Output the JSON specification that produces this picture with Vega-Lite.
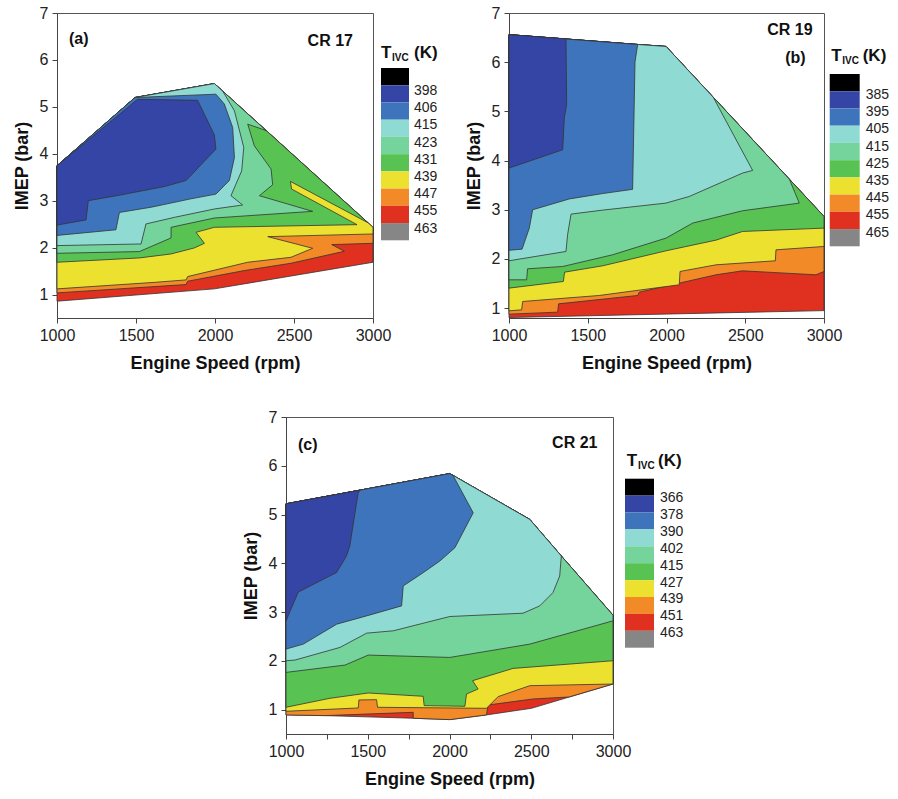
{
  "$schema": "https://vega.github.io/schema/vega-lite/v6.json",
  "background": "white",
  "padding": {"left": 12, "top": 4, "right": 0, "bottom": 0},
  "config": {
    "font": "Liberation Sans",
    "view": {"stroke": "#555", "strokeWidth": 1},
    "axis": {
      "grid": false, "domainColor": "#444", "tickColor": "#444", "labelColor": "#222",
      "labelFontSize": 16, "titleFontSize": 18, "titleFontWeight": "bold", "titleColor": "#111",
      "tickSize": 5, "labelPadding": 4, "titlePadding": 8, "labelOverlap": false, "labelFlush": false
    },
    "axisX": {"titlePadding": 11}
  },
  "datasets": {
    "a": [
      {"c":"L1","i":0,"x":1000,"y":0.858},{"c":"L1","i":1,"x":1996,"y":1.121},{"c":"L1","i":2,"x":3000,"y":1.688},{"c":"L1","i":3,"x":3000,"y":2.433},{"c":"L1","i":4,"x":1996,"y":5.496},{"c":"L1","i":5,"x":1494,"y":5.199},{"c":"L1","i":6,"x":1000,"y":3.745},
      {"c":"L2","i":0,"x":1000,"y":1.035},{"c":"L2","i":1,"x":1817,"y":1.213},{"c":"L2","i":2,"x":1827,"y":1.284},{"c":"L2","i":3,"x":2186,"y":1.511},{"c":"L2","i":4,"x":2481,"y":1.667},{"c":"L2","i":5,"x":2819,"y":1.922},{"c":"L2","i":6,"x":2739,"y":2.064},{"c":"L2","i":7,"x":3000,"y":2.092},{"c":"L2","i":8,"x":3000,"y":2.433},{"c":"L2","i":9,"x":1996,"y":5.496},{"c":"L2","i":10,"x":1494,"y":5.199},{"c":"L2","i":11,"x":1000,"y":3.745},
      {"c":"L3","i":0,"x":1000,"y":1.121},{"c":"L3","i":1,"x":1627,"y":1.262},{"c":"L3","i":2,"x":1817,"y":1.312},{"c":"L3","i":3,"x":1827,"y":1.383},{"c":"L3","i":4,"x":2207,"y":1.688},{"c":"L3","i":5,"x":2481,"y":1.794},{"c":"L3","i":6,"x":2618,"y":1.986},{"c":"L3","i":7,"x":2334,"y":2.234},{"c":"L3","i":8,"x":3000,"y":2.291},{"c":"L3","i":9,"x":3000,"y":2.433},{"c":"L3","i":10,"x":1996,"y":5.496},{"c":"L3","i":11,"x":1494,"y":5.199},{"c":"L3","i":12,"x":1000,"y":3.745},
      {"c":"L4","i":0,"x":1000,"y":1.688},{"c":"L4","i":1,"x":1521,"y":1.78},{"c":"L4","i":2,"x":1722,"y":1.865},{"c":"L4","i":3,"x":1869,"y":1.993},{"c":"L4","i":4,"x":1933,"y":2.092},{"c":"L4","i":5,"x":1880,"y":2.326},{"c":"L4","i":6,"x":1996,"y":2.433},{"c":"L4","i":7,"x":2899,"y":2.489},{"c":"L4","i":8,"x":2485,"y":3.248},{"c":"L4","i":9,"x":2477,"y":3.411},{"c":"L4","i":10,"x":2967,"y":2.532},{"c":"L4","i":11,"x":1996,"y":5.496},{"c":"L4","i":12,"x":1494,"y":5.199},{"c":"L4","i":13,"x":1000,"y":3.745},
      {"c":"L5","i":0,"x":1000,"y":1.879},{"c":"L5","i":1,"x":1521,"y":1.915},{"c":"L5","i":2,"x":1722,"y":2.206},{"c":"L5","i":3,"x":1722,"y":2.433},{"c":"L5","i":4,"x":1996,"y":2.631},{"c":"L5","i":5,"x":2618,"y":2.773},{"c":"L5","i":6,"x":2281,"y":3.106},{"c":"L5","i":7,"x":2365,"y":3.34},{"c":"L5","i":8,"x":2355,"y":3.674},{"c":"L5","i":9,"x":2249,"y":4.17},{"c":"L5","i":10,"x":2207,"y":4.631},{"c":"L5","i":11,"x":2323,"y":4.496},{"c":"L5","i":12,"x":1996,"y":5.496},{"c":"L5","i":13,"x":1494,"y":5.199},{"c":"L5","i":14,"x":1000,"y":3.745},
      {"c":"L6","i":0,"x":1000,"y":2.043},{"c":"L6","i":1,"x":1532,"y":2.078},{"c":"L6","i":2,"x":1563,"y":2.504},{"c":"L6","i":3,"x":1743,"y":2.645},{"c":"L6","i":4,"x":1996,"y":2.823},{"c":"L6","i":5,"x":2175,"y":2.908},{"c":"L6","i":6,"x":2101,"y":3.106},{"c":"L6","i":7,"x":2169,"y":3.638},{"c":"L6","i":8,"x":2182,"y":4.135},{"c":"L6","i":9,"x":2123,"y":4.915},{"c":"L6","i":10,"x":2049,"y":5.334},{"c":"L6","i":11,"x":1996,"y":5.496},{"c":"L6","i":12,"x":1494,"y":5.199},{"c":"L6","i":13,"x":1000,"y":3.745},
      {"c":"L7","i":0,"x":1000,"y":2.26},{"c":"L7","i":1,"x":1373,"y":2.38},{"c":"L7","i":2,"x":1395,"y":2.75},{"c":"L7","i":3,"x":1595,"y":2.86},{"c":"L7","i":4,"x":1848,"y":3.04},{"c":"L7","i":5,"x":2006,"y":3.14},{"c":"L7","i":6,"x":2091,"y":3.43},{"c":"L7","i":7,"x":2123,"y":3.92},{"c":"L7","i":8,"x":2112,"y":4.56},{"c":"L7","i":9,"x":2059,"y":5.06},{"c":"L7","i":10,"x":2006,"y":5.27},{"c":"L7","i":11,"x":1494,"y":5.199},{"c":"L7","i":12,"x":1000,"y":3.745},
      {"c":"L8","i":0,"x":1000,"y":2.48},{"c":"L8","i":1,"x":1184,"y":2.59},{"c":"L8","i":2,"x":1198,"y":3.0},{"c":"L8","i":3,"x":1384,"y":3.11},{"c":"L8","i":4,"x":1679,"y":3.3},{"c":"L8","i":5,"x":1817,"y":3.43},{"c":"L8","i":6,"x":2006,"y":4.1},{"c":"L8","i":7,"x":1996,"y":4.4},{"c":"L8","i":8,"x":1933,"y":4.84},{"c":"L8","i":9,"x":1890,"y":5.14},{"c":"L8","i":10,"x":1510,"y":5.16},{"c":"L8","i":11,"x":1000,"y":3.745}
    ],
    "b": [
      {"c":"L1","i":0,"x":1000,"y":0.81},{"c":"L1","i":1,"x":3000,"y":0.95},{"c":"L1","i":2,"x":3000,"y":2.864},{"c":"L1","i":3,"x":1997,"y":6.32},{"c":"L1","i":4,"x":1817,"y":6.36},{"c":"L1","i":5,"x":1000,"y":6.56},
      {"c":"L2","i":0,"x":1000,"y":0.878},{"c":"L2","i":1,"x":1309,"y":0.919},{"c":"L2","i":2,"x":1315,"y":1.088},{"c":"L2","i":3,"x":1817,"y":1.258},{"c":"L2","i":4,"x":1827,"y":1.325},{"c":"L2","i":5,"x":2314,"y":1.678},{"c":"L2","i":6,"x":2483,"y":1.759},{"c":"L2","i":7,"x":2949,"y":1.678},{"c":"L2","i":8,"x":3000,"y":1.746},{"c":"L2","i":9,"x":3000,"y":2.864},{"c":"L2","i":10,"x":1997,"y":6.32},{"c":"L2","i":11,"x":1817,"y":6.36},{"c":"L2","i":12,"x":1000,"y":6.56},
      {"c":"L3","i":0,"x":1000,"y":0.946},{"c":"L3","i":1,"x":1080,"y":0.966},{"c":"L3","i":2,"x":1087,"y":1.136},{"c":"L3","i":3,"x":1573,"y":1.258},{"c":"L3","i":4,"x":2081,"y":1.475},{"c":"L3","i":5,"x":2086,"y":1.746},{"c":"L3","i":6,"x":2314,"y":1.881},{"c":"L3","i":7,"x":2691,"y":1.963},{"c":"L3","i":8,"x":2695,"y":2.186},{"c":"L3","i":9,"x":3000,"y":2.254},{"c":"L3","i":10,"x":3000,"y":2.864},{"c":"L3","i":11,"x":1997,"y":6.32},{"c":"L3","i":12,"x":1817,"y":6.36},{"c":"L3","i":13,"x":1000,"y":6.56},
      {"c":"L4","i":0,"x":1000,"y":1.407},{"c":"L4","i":1,"x":1345,"y":1.542},{"c":"L4","i":2,"x":1353,"y":1.732},{"c":"L4","i":3,"x":1595,"y":1.861},{"c":"L4","i":4,"x":1997,"y":2.166},{"c":"L4","i":5,"x":2314,"y":2.383},{"c":"L4","i":6,"x":2483,"y":2.559},{"c":"L4","i":7,"x":3000,"y":2.627},{"c":"L4","i":8,"x":3000,"y":2.864},{"c":"L4","i":9,"x":1997,"y":6.32},{"c":"L4","i":10,"x":1817,"y":6.36},{"c":"L4","i":11,"x":1000,"y":6.56},
      {"c":"L5","i":0,"x":1000,"y":1.576},{"c":"L5","i":1,"x":1112,"y":1.576},{"c":"L5","i":2,"x":1118,"y":1.8},{"c":"L5","i":3,"x":1341,"y":1.847},{"c":"L5","i":4,"x":1658,"y":2.085},{"c":"L5","i":5,"x":1997,"y":2.424},{"c":"L5","i":6,"x":2166,"y":2.729},{"c":"L5","i":7,"x":2483,"y":2.98},{"c":"L5","i":8,"x":2843,"y":3.136},{"c":"L5","i":9,"x":2780,"y":3.622},{"c":"L5","i":10,"x":1997,"y":6.32},{"c":"L5","i":11,"x":1817,"y":6.36},{"c":"L5","i":12,"x":1000,"y":6.56},
      {"c":"L6","i":0,"x":1000,"y":1.963},{"c":"L6","i":1,"x":1362,"y":2.153},{"c":"L6","i":2,"x":1372,"y":2.492},{"c":"L6","i":3,"x":1394,"y":2.912},{"c":"L6","i":4,"x":1595,"y":2.993},{"c":"L6","i":5,"x":1997,"y":3.136},{"c":"L6","i":6,"x":2145,"y":3.271},{"c":"L6","i":7,"x":2483,"y":3.746},{"c":"L6","i":8,"x":2547,"y":3.8},{"c":"L6","i":9,"x":2297,"y":5.286},{"c":"L6","i":10,"x":1997,"y":6.32},{"c":"L6","i":11,"x":1817,"y":6.36},{"c":"L6","i":12,"x":1000,"y":6.56},
      {"c":"L7","i":0,"x":1000,"y":2.176},{"c":"L7","i":1,"x":1083,"y":2.2},{"c":"L7","i":2,"x":1129,"y":2.627},{"c":"L7","i":3,"x":1150,"y":3.0},{"c":"L7","i":4,"x":1383,"y":3.22},{"c":"L7","i":5,"x":1595,"y":3.33},{"c":"L7","i":6,"x":1785,"y":3.415},{"c":"L7","i":7,"x":1800,"y":6.0},{"c":"L7","i":8,"x":1817,"y":6.36},{"c":"L7","i":9,"x":1000,"y":6.56},
      {"c":"L8","i":0,"x":1000,"y":3.847},{"c":"L8","i":1,"x":1341,"y":4.22},{"c":"L8","i":2,"x":1351,"y":4.86},{"c":"L8","i":3,"x":1366,"y":5.14},{"c":"L8","i":4,"x":1362,"y":6.475},{"c":"L8","i":5,"x":1000,"y":6.56}
    ],
    "c": [
      {"c":"L1","i":0,"x":1000,"y":0.891},{"c":"L1","i":1,"x":1238,"y":0.877},{"c":"L1","i":2,"x":1778,"y":0.823},{"c":"L1","i":3,"x":2002,"y":0.795},{"c":"L1","i":4,"x":2226,"y":0.891},{"c":"L1","i":5,"x":2501,"y":1.027},{"c":"L1","i":6,"x":3000,"y":1.525},{"c":"L1","i":7,"x":3000,"y":2.936},{"c":"L1","i":8,"x":2684,"y":4.15},{"c":"L1","i":9,"x":2491,"y":4.9},{"c":"L1","i":10,"x":2002,"y":5.84},{"c":"L1","i":11,"x":1000,"y":5.22},
      {"c":"L2","i":0,"x":1000,"y":0.891},{"c":"L2","i":1,"x":1238,"y":0.877},{"c":"L2","i":2,"x":1778,"y":0.945},{"c":"L2","i":3,"x":1778,"y":0.823},{"c":"L2","i":4,"x":2002,"y":0.795},{"c":"L2","i":5,"x":2226,"y":0.891},{"c":"L2","i":6,"x":2236,"y":1.095},{"c":"L2","i":7,"x":2511,"y":1.218},{"c":"L2","i":8,"x":2731,"y":1.259},{"c":"L2","i":9,"x":3000,"y":1.525},{"c":"L2","i":10,"x":3000,"y":2.936},{"c":"L2","i":11,"x":2684,"y":4.15},{"c":"L2","i":12,"x":2491,"y":4.9},{"c":"L2","i":13,"x":2002,"y":5.84},{"c":"L2","i":14,"x":1000,"y":5.22},
      {"c":"L3","i":0,"x":1000,"y":0.966},{"c":"L3","i":1,"x":1442,"y":1.034},{"c":"L3","i":2,"x":1446,"y":1.198},{"c":"L3","i":3,"x":1554,"y":1.204},{"c":"L3","i":4,"x":1560,"y":1.048},{"c":"L3","i":5,"x":2226,"y":1.027},{"c":"L3","i":6,"x":2297,"y":1.266},{"c":"L3","i":7,"x":2491,"y":1.491},{"c":"L3","i":8,"x":3000,"y":1.525},{"c":"L3","i":9,"x":3000,"y":2.936},{"c":"L3","i":10,"x":2684,"y":4.15},{"c":"L3","i":11,"x":2491,"y":4.9},{"c":"L3","i":12,"x":2002,"y":5.84},{"c":"L3","i":13,"x":1000,"y":5.22},
      {"c":"L4","i":0,"x":1000,"y":1.048},{"c":"L4","i":1,"x":1269,"y":1.232},{"c":"L4","i":2,"x":1503,"y":1.341},{"c":"L4","i":3,"x":1839,"y":1.273},{"c":"L4","i":4,"x":1845,"y":1.082},{"c":"L4","i":5,"x":2094,"y":1.068},{"c":"L4","i":6,"x":2104,"y":1.32},{"c":"L4","i":7,"x":2175,"y":1.423},{"c":"L4","i":8,"x":2141,"y":1.593},{"c":"L4","i":9,"x":2389,"y":1.845},{"c":"L4","i":10,"x":3000,"y":2.002},{"c":"L4","i":11,"x":3000,"y":2.936},{"c":"L4","i":12,"x":2684,"y":4.15},{"c":"L4","i":13,"x":2491,"y":4.9},{"c":"L4","i":14,"x":2002,"y":5.84},{"c":"L4","i":15,"x":1000,"y":5.22},
      {"c":"L5","i":0,"x":1000,"y":1.763},{"c":"L5","i":1,"x":1361,"y":1.913},{"c":"L5","i":2,"x":1503,"y":2.118},{"c":"L5","i":3,"x":2002,"y":2.07},{"c":"L5","i":4,"x":2491,"y":2.343},{"c":"L5","i":5,"x":3000,"y":2.82},{"c":"L5","i":6,"x":3000,"y":2.936},{"c":"L5","i":7,"x":2684,"y":4.15},{"c":"L5","i":8,"x":2491,"y":4.9},{"c":"L5","i":9,"x":2002,"y":5.84},{"c":"L5","i":10,"x":1000,"y":5.22},
      {"c":"L6","i":0,"x":1000,"y":2.002},{"c":"L6","i":1,"x":1055,"y":2.016},{"c":"L6","i":2,"x":1330,"y":2.275},{"c":"L6","i":3,"x":1493,"y":2.568},{"c":"L6","i":4,"x":1656,"y":2.616},{"c":"L6","i":5,"x":2002,"y":2.909},{"c":"L6","i":6,"x":2450,"y":2.977},{"c":"L6","i":7,"x":2552,"y":3.127},{"c":"L6","i":8,"x":2633,"y":3.4},{"c":"L6","i":9,"x":2674,"y":3.74},{"c":"L6","i":10,"x":2684,"y":4.15},{"c":"L6","i":11,"x":2491,"y":4.9},{"c":"L6","i":12,"x":2002,"y":5.84},{"c":"L6","i":13,"x":1000,"y":5.22},
      {"c":"L7","i":0,"x":1000,"y":2.241},{"c":"L7","i":1,"x":1106,"y":2.343},{"c":"L7","i":2,"x":1310,"y":2.752},{"c":"L7","i":3,"x":1493,"y":2.922},{"c":"L7","i":4,"x":1707,"y":3.127},{"c":"L7","i":5,"x":1717,"y":3.536},{"c":"L7","i":6,"x":1839,"y":3.808},{"c":"L7","i":7,"x":1941,"y":4.047},{"c":"L7","i":8,"x":2033,"y":4.32},{"c":"L7","i":9,"x":2145,"y":5.036},{"c":"L7","i":10,"x":2022,"y":5.8},{"c":"L7","i":11,"x":2002,"y":5.84},{"c":"L7","i":12,"x":1000,"y":5.22},
      {"c":"L8","i":0,"x":1000,"y":2.82},{"c":"L8","i":1,"x":1075,"y":3.41},{"c":"L8","i":2,"x":1309,"y":3.81},{"c":"L8","i":3,"x":1370,"y":4.15},{"c":"L8","i":4,"x":1390,"y":4.35},{"c":"L8","i":5,"x":1441,"y":5.44},{"c":"L8","i":6,"x":1452,"y":5.499},{"c":"L8","i":7,"x":1000,"y":5.22}
    ],
    "legA": [
      {"c":"L9","lab":""},{"c":"L8","lab":"398"},{"c":"L7","lab":"406"},{"c":"L6","lab":"415"},{"c":"L5","lab":"423"},
      {"c":"L4","lab":"431"},{"c":"L3","lab":"439"},{"c":"L2","lab":"447"},{"c":"L1","lab":"455"},{"c":"L0","lab":"463"}
    ],
    "legB": [
      {"c":"L9","lab":""},{"c":"L8","lab":"385"},{"c":"L7","lab":"395"},{"c":"L6","lab":"405"},{"c":"L5","lab":"415"},
      {"c":"L4","lab":"425"},{"c":"L3","lab":"435"},{"c":"L2","lab":"445"},{"c":"L1","lab":"455"},{"c":"L0","lab":"465"}
    ],
    "legC": [
      {"c":"L9","lab":""},{"c":"L8","lab":"366"},{"c":"L7","lab":"378"},{"c":"L6","lab":"390"},{"c":"L5","lab":"402"},
      {"c":"L4","lab":"415"},{"c":"L3","lab":"427"},{"c":"L2","lab":"439"},{"c":"L1","lab":"451"},{"c":"L0","lab":"463"}
    ]
  },
  "vconcat": [
    {
      "spacing": 25,
      "hconcat": [
        {
          "width": 316, "height": 305,
          "resolve": {"scale": {"x": "independent", "y": "independent"}},
          "layer": [
            {
              "data": {"name": "a"},
              "layer": [
                {
                  "mark": {"type": "line", "filled": true, "interpolate": "linear-closed", "stroke": "#333", "strokeWidth": 0.8},
                  "encoding": {
                    "x": {"field": "x", "type": "quantitative", "scale": {"domain": [1000, 3000], "nice": false, "zero": false},
                          "axis": {"title": "Engine Speed (rpm)", "values": [1000,1250,1500,1750,2000,2250,2500,2750,3000], "format": "d", "labelExpr": "datum.value % 500 === 0 ? datum.label : ''"}},
                    "y": {"field": "y", "type": "quantitative", "scale": {"domain": [0.5, 7], "nice": false, "zero": false},
                          "axis": {"title": "IMEP (bar)", "values": [1,1.5,2,2.5,3,3.5,4,4.5,5,5.5,6,6.5,7], "labelExpr": "datum.value % 1 === 0 ? datum.label : ''"}},
                    "color": {"field": "c", "type": "nominal", "legend": null,
                              "scale": {"domain": ["L0","L1","L2","L3","L4","L5","L6","L7","L8","L9"], "range": ["#868686","#e0301f","#f28a27","#ede12f","#58c352","#74d49c","#8fdbd3","#3e74bb","#3545a5","#000000"]}},
                    "order": {"field": "i", "type": "quantitative"}
                  }
                },
                {
                  "data": {"values": [{}]},
                  "mark": {"type": "text", "align": "left", "baseline": "middle", "fontWeight": "bold", "fontSize": 16, "color": "#111"},
                  "encoding": {"x": {"datum": 1076}, "y": {"datum": 6.44}, "text": {"value": "(a)"}}
                },
                {
                  "data": {"values": [{}]},
                  "mark": {"type": "text", "align": "right", "baseline": "middle", "fontWeight": "bold", "fontSize": 16, "color": "#111"},
                  "encoding": {"x": {"datum": 2873}, "y": {"datum": 6.4}, "text": {"value": "CR 17"}}
                }
              ]
            },
            {
              "data": {"name": "legA"},
              "layer": [
                {
                  "mark": {"type": "rect"},
                  "encoding": {
                    "y": {"field": "c", "type": "nominal", "axis": null, "scale": {"domain": ["t","L9","L8","L7","L6","L5","L4","L3","L2","L1","L0"], "range": [37.8, 227.3], "paddingInner": 0, "paddingOuter": 0}},
                    "x": {"datum": 0, "scale": {"domain": [0, 100], "range": [324, 424], "nice": false, "zero": false}, "axis": null},
                    "x2": {"datum": 28},
                    "color": {"field": "c", "type": "nominal", "legend": null,
                              "scale": {"domain": ["L0","L1","L2","L3","L4","L5","L6","L7","L8","L9"], "range": ["#868686","#e0301f","#f28a27","#ede12f","#58c352","#74d49c","#8fdbd3","#3e74bb","#3545a5","#000000"]}}
                  }
                },
                {
                  "mark": {"type": "text", "align": "left", "baseline": "middle", "dy": -3, "fontSize": 14, "color": "#222"},
                  "encoding": {"y": {"field": "c", "type": "nominal"}, "x": {"datum": 33}, "text": {"field": "lab"}}
                },
                {
                  "data": {"values": [{"c": "t"}]},
                  "mark": {"type": "text", "align": "left", "baseline": "middle", "dy": -6, "fontSize": 17, "fontWeight": "bold", "color": "#111"},
                  "encoding": {"y": {"field": "c", "type": "nominal"}, "x": {"datum": 0}, "text": {"value": "T"}}
                },
                {
                  "data": {"values": [{"c": "t"}]},
                  "mark": {"type": "text", "align": "left", "baseline": "middle", "dy": -1, "fontSize": 10, "fontWeight": "bold", "color": "#111"},
                  "encoding": {"y": {"field": "c", "type": "nominal"}, "x": {"datum": 11}, "text": {"value": "IVC"}}
                },
                {
                  "data": {"values": [{"c": "t"}]},
                  "mark": {"type": "text", "align": "left", "baseline": "middle", "dy": -6, "fontSize": 17, "fontWeight": "bold", "color": "#111"},
                  "encoding": {"y": {"field": "c", "type": "nominal"}, "x": {"datum": 33}, "text": {"value": "(K)"}}
                }
              ]
            }
          ]
        },
        {
          "width": 315, "height": 305,
          "resolve": {"scale": {"x": "independent", "y": "independent"}},
          "layer": [
            {
              "data": {"name": "b"},
              "layer": [
                {
                  "mark": {"type": "line", "filled": true, "interpolate": "linear-closed", "stroke": "#333", "strokeWidth": 0.8},
                  "encoding": {
                    "x": {"field": "x", "type": "quantitative", "scale": {"domain": [1000, 3000], "nice": false, "zero": false},
                          "axis": {"title": "Engine Speed (rpm)", "values": [1000,1250,1500,1750,2000,2250,2500,2750,3000], "format": "d", "labelExpr": "datum.value % 500 === 0 ? datum.label : ''"}},
                    "y": {"field": "y", "type": "quantitative", "scale": {"domain": [0.8, 7], "nice": false, "zero": false},
                          "axis": {"title": "IMEP (bar)", "values": [1,1.5,2,2.5,3,3.5,4,4.5,5,5.5,6,6.5,7], "labelExpr": "datum.value % 1 === 0 ? datum.label : ''"}},
                    "color": {"field": "c", "type": "nominal", "legend": null,
                              "scale": {"domain": ["L0","L1","L2","L3","L4","L5","L6","L7","L8","L9"], "range": ["#868686","#e0301f","#f28a27","#ede12f","#58c352","#74d49c","#8fdbd3","#3e74bb","#3545a5","#000000"]}},
                    "order": {"field": "i", "type": "quantitative"}
                  }
                },
                {
                  "data": {"values": [{}]},
                  "mark": {"type": "text", "align": "right", "baseline": "middle", "fontWeight": "bold", "fontSize": 16, "color": "#111"},
                  "encoding": {"x": {"datum": 2928}, "y": {"datum": 6.65}, "text": {"value": "CR 19"}}
                },
                {
                  "data": {"values": [{}]},
                  "mark": {"type": "text", "align": "right", "baseline": "middle", "fontWeight": "bold", "fontSize": 16, "color": "#111"},
                  "encoding": {"x": {"datum": 2883}, "y": {"datum": 6.08}, "text": {"value": "(b)"}}
                }
              ]
            },
            {
              "data": {"name": "legB"},
              "layer": [
                {
                  "mark": {"type": "rect"},
                  "encoding": {
                    "y": {"field": "c", "type": "nominal", "axis": null, "scale": {"domain": ["t","L9","L8","L7","L6","L5","L4","L3","L2","L1","L0"], "range": [43.8, 233.3], "paddingInner": 0, "paddingOuter": 0}},
                    "x": {"datum": 0, "scale": {"domain": [0, 100], "range": [320.7, 420.7], "nice": false, "zero": false}, "axis": null},
                    "x2": {"datum": 30},
                    "color": {"field": "c", "type": "nominal", "legend": null,
                              "scale": {"domain": ["L0","L1","L2","L3","L4","L5","L6","L7","L8","L9"], "range": ["#868686","#e0301f","#f28a27","#ede12f","#58c352","#74d49c","#8fdbd3","#3e74bb","#3545a5","#000000"]}}
                  }
                },
                {
                  "mark": {"type": "text", "align": "left", "baseline": "middle", "dy": -5, "fontSize": 14, "color": "#222"},
                  "encoding": {"y": {"field": "c", "type": "nominal"}, "x": {"datum": 36}, "text": {"field": "lab"}}
                },
                {
                  "data": {"values": [{"c": "t"}]},
                  "mark": {"type": "text", "align": "left", "baseline": "middle", "dy": -9, "fontSize": 17, "fontWeight": "bold", "color": "#111"},
                  "encoding": {"y": {"field": "c", "type": "nominal"}, "x": {"datum": 1.5}, "text": {"value": "T"}}
                },
                {
                  "data": {"values": [{"c": "t"}]},
                  "mark": {"type": "text", "align": "left", "baseline": "middle", "dy": -4, "fontSize": 10, "fontWeight": "bold", "color": "#111"},
                  "encoding": {"y": {"field": "c", "type": "nominal"}, "x": {"datum": 12.5}, "text": {"value": "IVC"}}
                },
                {
                  "data": {"values": [{"c": "t"}]},
                  "mark": {"type": "text", "align": "left", "baseline": "middle", "dy": -9, "fontSize": 17, "fontWeight": "bold", "color": "#111"},
                  "encoding": {"y": {"field": "c", "type": "nominal"}, "x": {"datum": 33}, "text": {"value": "(K)"}}
                }
              ]
            }
          ]
        }
      ]
    },
    {
      "spacing": 8,
      "hconcat": [
        {
          "width": 176, "height": 10, "view": {"stroke": null},
          "data": {"values": [{}]},
          "mark": {"type": "text"},
          "encoding": {"text": {"value": ""}}
        },
        {
          "width": 327, "height": 317,
          "resolve": {"scale": {"x": "independent", "y": "independent"}},
          "layer": [
            {
              "data": {"name": "c"},
              "layer": [
                {
                  "mark": {"type": "line", "filled": true, "interpolate": "linear-closed", "stroke": "#333", "strokeWidth": 0.8},
                  "encoding": {
                    "x": {"field": "x", "type": "quantitative", "scale": {"domain": [1000, 3000], "nice": false, "zero": false},
                          "axis": {"title": "Engine Speed (rpm)", "values": [1000,1250,1500,1750,2000,2250,2500,2750,3000], "format": "d", "labelExpr": "datum.value % 500 === 0 ? datum.label : ''"}},
                    "y": {"field": "y", "type": "quantitative", "scale": {"domain": [0.5, 7], "nice": false, "zero": false},
                          "axis": {"title": "IMEP (bar)", "values": [1,1.5,2,2.5,3,3.5,4,4.5,5,5.5,6,6.5,7], "labelExpr": "datum.value % 1 === 0 ? datum.label : ''"}},
                    "color": {"field": "c", "type": "nominal", "legend": null,
                              "scale": {"domain": ["L0","L1","L2","L3","L4","L5","L6","L7","L8","L9"], "range": ["#868686","#e0301f","#f28a27","#ede12f","#58c352","#74d49c","#8fdbd3","#3e74bb","#3545a5","#000000"]}},
                    "order": {"field": "i", "type": "quantitative"}
                  }
                },
                {
                  "data": {"values": [{}]},
                  "mark": {"type": "text", "align": "left", "baseline": "middle", "fontWeight": "bold", "fontSize": 16, "color": "#111"},
                  "encoding": {"x": {"datum": 1073}, "y": {"datum": 6.43}, "text": {"value": "(c)"}}
                },
                {
                  "data": {"values": [{}]},
                  "mark": {"type": "text", "align": "right", "baseline": "middle", "fontWeight": "bold", "fontSize": 16, "color": "#111"},
                  "encoding": {"x": {"datum": 2905}, "y": {"datum": 6.47}, "text": {"value": "CR 21"}}
                }
              ]
            },
            {
              "data": {"name": "legC"},
              "layer": [
                {
                  "mark": {"type": "rect"},
                  "encoding": {
                    "y": {"field": "c", "type": "nominal", "axis": null, "scale": {"domain": ["t","L9","L8","L7","L6","L5","L4","L3","L2","L1","L0"], "range": [44.8, 230.7], "paddingInner": 0, "paddingOuter": 0}},
                    "x": {"datum": 0, "scale": {"domain": [0, 100], "range": [339, 439], "nice": false, "zero": false}, "axis": null},
                    "x2": {"datum": 29},
                    "color": {"field": "c", "type": "nominal", "legend": null,
                              "scale": {"domain": ["L0","L1","L2","L3","L4","L5","L6","L7","L8","L9"], "range": ["#868686","#e0301f","#f28a27","#ede12f","#58c352","#74d49c","#8fdbd3","#3e74bb","#3545a5","#000000"]}}
                  }
                },
                {
                  "mark": {"type": "text", "align": "left", "baseline": "middle", "dy": -6, "fontSize": 14, "color": "#222"},
                  "encoding": {"y": {"field": "c", "type": "nominal"}, "x": {"datum": 35}, "text": {"field": "lab"}}
                },
                {
                  "data": {"values": [{"c": "t"}]},
                  "mark": {"type": "text", "align": "left", "baseline": "middle", "dy": -9, "fontSize": 17, "fontWeight": "bold", "color": "#111"},
                  "encoding": {"y": {"field": "c", "type": "nominal"}, "x": {"datum": 1.7}, "text": {"value": "T"}}
                },
                {
                  "data": {"values": [{"c": "t"}]},
                  "mark": {"type": "text", "align": "left", "baseline": "middle", "dy": -4, "fontSize": 10, "fontWeight": "bold", "color": "#111"},
                  "encoding": {"y": {"field": "c", "type": "nominal"}, "x": {"datum": 13}, "text": {"value": "IVC"}}
                },
                {
                  "data": {"values": [{"c": "t"}]},
                  "mark": {"type": "text", "align": "left", "baseline": "middle", "dy": -9, "fontSize": 17, "fontWeight": "bold", "color": "#111"},
                  "encoding": {"y": {"field": "c", "type": "nominal"}, "x": {"datum": 33}, "text": {"value": "(K)"}}
                }
              ]
            }
          ]
        }
      ]
    }
  ],
  "spacing": 35
}
